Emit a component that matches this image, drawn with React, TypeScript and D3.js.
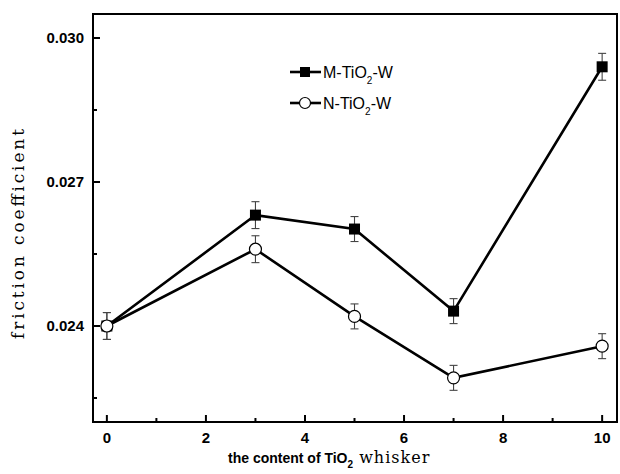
import { useEffect, useRef } from "react";
import * as d3 from "d3";

// content of TiO2 whisker
const contents = [0, 3, 5, 7, 10];
const mValues = [0.0240, 0.02631, 0.02602, 0.02431, 0.02940];
const mErrors = [0.00028, 0.00028, 0.00026, 0.00026, 0.00028];
const nValues = [0.0240, 0.02560, 0.02420, 0.02292, 0.02358];
const nErrors = [0.00028, 0.00028, 0.00026, 0.00026, 0.00026];
const xMajor = [0, 2, 4, 6, 8, 10];
const xMinor = [1, 3, 5, 7, 9];
const yMajor = [0.024, 0.027, 0.030];
const yMinor = [0.0225, 0.0255, 0.0285];

const App = () => {
    const ref = useRef(null);
    const W = 620, H = 474;
    const left = 93, right = 617, top = 14, bottom = 422;

    useEffect(() => {
        const svg = d3.select(ref.current);
        svg.selectAll("*").remove();

        const x = d3.scaleLinear().domain([-0.28, 10.3]).range([left, right]);
        const y = d3.scaleLinear().domain([0.022, 0.0305]).range([bottom, top]);

        // frame
        svg.append("rect").attr("x", left).attr("y", top)
            .attr("width", right - left).attr("height", bottom - top)
            .attr("fill", "none").attr("stroke", "#000").attr("stroke-width", 2);

        // ticks
        const tg = svg.append("g").attr("stroke", "#000").attr("stroke-width", 2);
        xMajor.forEach(v => tg.append("line").attr("x1", x(v)).attr("x2", x(v)).attr("y1", bottom).attr("y2", bottom - 7));
        xMinor.forEach(v => tg.append("line").attr("x1", x(v)).attr("x2", x(v)).attr("y1", bottom).attr("y2", bottom - 4));
        yMajor.forEach(v => tg.append("line").attr("x1", left).attr("x2", left + 7).attr("y1", y(v)).attr("y2", y(v)));
        yMinor.forEach(v => tg.append("line").attr("x1", left).attr("x2", left + 4).attr("y1", y(v)).attr("y2", y(v)));

        const tickFont = "'Liberation Sans', Arial, sans-serif";
        const serifFont = "'DejaVu Serif', 'Liberation Serif', serif";
        svg.append("g").selectAll("text").data(xMajor).enter().append("text")
            .attr("x", d => x(d)).attr("y", 443).attr("text-anchor", "middle")
            .attr("font-family", tickFont).attr("font-weight", "bold").attr("font-size", 15)
            .text(d => d);
        svg.append("g").selectAll("text").data(yMajor).enter().append("text")
            .attr("x", 84).attr("y", d => y(d) + 5).attr("text-anchor", "end")
            .attr("font-family", tickFont).attr("font-weight", "bold").attr("font-size", 15)
            .text(d => d3.format(".3f")(d));

        // axis titles
        svg.append("text")
            .attr("transform", `translate(24,234) rotate(-90)`)
            .attr("text-anchor", "middle")
            .attr("font-family", serifFont).attr("font-size", 17)
            .attr("textLength", 210).attr("lengthAdjust", "spacing")
            .text("friction coefficient");

        const xt = svg.append("text").attr("x", 228).attr("y", 463).attr("font-size", 14);
        xt.append("tspan").attr("font-family", tickFont).attr("font-weight", "bold").text("the content of TiO");
        xt.append("tspan").attr("font-family", tickFont).attr("font-weight", "bold")
            .attr("font-size", 10).attr("dy", 5).text("2");
        xt.append("tspan").attr("font-family", serifFont).attr("font-size", 16).attr("dy", -5)
            .attr("letter-spacing", 1).text(" whisker");

        const series = [
            {vals: mValues, errs: mErrors, filled: true},
            {vals: nValues, errs: nErrors, filled: false},
        ];

        const line = d3.line().x(d => x(d[0])).y(d => y(d[1]));

        series.forEach(s => {
            const pts = contents.map((c, i) => [c, s.vals[i], s.errs[i]]);
            svg.append("path").datum(pts).attr("d", line)
                .attr("fill", "none").attr("stroke", "#000").attr("stroke-width", 2.6);
            const eg = svg.append("g").attr("stroke", "#444").attr("stroke-width", 1.1);
            pts.forEach(p => {
                const cx = x(p[0]);
                eg.append("line").attr("x1", cx).attr("x2", cx).attr("y1", y(p[1] + p[2])).attr("y2", y(p[1] - p[2]));
                eg.append("line").attr("x1", cx - 4).attr("x2", cx + 4).attr("y1", y(p[1] + p[2])).attr("y2", y(p[1] + p[2]));
                eg.append("line").attr("x1", cx - 4).attr("x2", cx + 4).attr("y1", y(p[1] - p[2])).attr("y2", y(p[1] - p[2]));
            });
            pts.forEach(p => {
                if (s.filled) {
                    svg.append("rect").attr("x", x(p[0]) - 5.5).attr("y", y(p[1]) - 5.5)
                        .attr("width", 11).attr("height", 11).attr("fill", "#000");
                } else {
                    svg.append("circle").attr("cx", x(p[0])).attr("cy", y(p[1])).attr("r", 6)
                        .attr("fill", "#fff").attr("stroke", "#000").attr("stroke-width", 1.2);
                }
            });
        });

        // legend
        const legend = [
            {label: "M-TiO", sub: "2", tail: "-W", filled: true, yy: 72},
            {label: "N-TiO", sub: "2", tail: "-W", filled: false, yy: 103},
        ];
        legend.forEach(l => {
            svg.append("line").attr("x1", 290).attr("x2", 321).attr("y1", l.yy).attr("y2", l.yy)
                .attr("stroke", "#000").attr("stroke-width", 2.6);
            if (l.filled) {
                svg.append("rect").attr("x", 300).attr("y", l.yy - 5).attr("width", 10).attr("height", 10).attr("fill", "#000");
            } else {
                svg.append("circle").attr("cx", 305).attr("cy", l.yy).attr("r", 5.5)
                    .attr("fill", "#fff").attr("stroke", "#000").attr("stroke-width", 1.2);
            }
            const t = svg.append("text").attr("x", 323).attr("y", l.yy + 6)
                .attr("font-family", tickFont).attr("font-size", 16);
            t.append("tspan").text(l.label);
            t.append("tspan").attr("font-size", 10).attr("dy", 6).text(l.sub);
            t.append("tspan").attr("dy", -6).text(l.tail);
        });
    }, []);

    return <svg ref={ref} width={W} height={H} style={{position: "absolute", left: 0, top: 0, background: "#fff"}}/>;
};

export default App;
